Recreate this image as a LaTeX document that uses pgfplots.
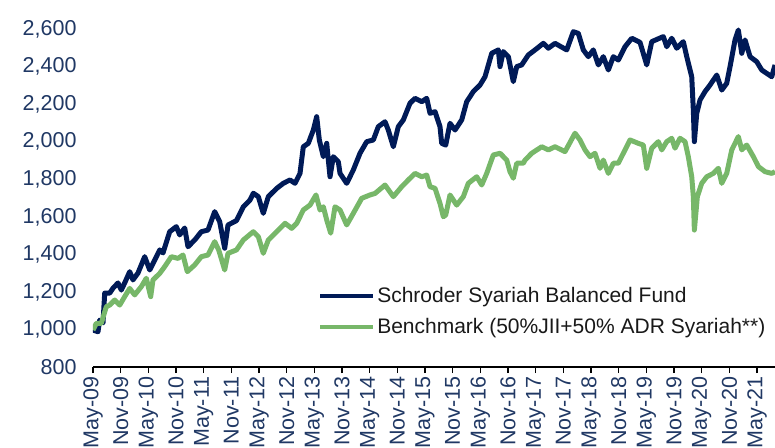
\documentclass[border=0pt]{standalone}
\usepackage{pgfplots}
\pgfplotsset{compat=1.18}
\usepackage{fontspec}
\setmainfont{Liberation Sans}
\definecolor{fundnavy}{HTML}{001A57}
\definecolor{benchgreen}{HTML}{77B769}
\definecolor{ticknavy}{HTML}{203864}
\begin{document}
\begin{tikzpicture}
\begin{axis}[
  width=682pt, height=367pt, scale only axis,
  xmin=0, xmax=147.9, ymin=800, ymax=2756,
  axis x line*=bottom, axis y line*=left,
  x axis line style={-, black, line width=1.3pt},
  y axis line style={draw=none},
  xtick={0,6,...,144},
  xticklabels={May-09,Nov-09,May-10,Nov-10,May-11,Nov-11,May-12,Nov-12,May-13,Nov-13,May-14,Nov-14,May-15,Nov-15,May-16,Nov-16,May-17,Nov-17,May-18,Nov-18,May-19,Nov-19,May-20,Nov-20,May-21},
  ytick={800,1000,...,2600},
  tick align=outside,
  major tick length=6pt,
  xtick style={black, line width=1.3pt},
  ytick style={draw=none},
  tick label style={font=\fontsize{21.5}{25}\selectfont, text=ticknavy},
  xticklabel style={rotate=90, anchor=east, xshift=0pt},
  yticklabel style={anchor=east, xshift=-7pt},
  /pgf/number format/assume math mode=true,
  /pgf/number format/1000 sep={,},
  scaled y ticks=false,
  legend style={at={(0.330,0.152)}, anchor=west, draw=none, fill=none,
    font=\fontsize{21}{25}\selectfont, text=black!90, inner sep=0pt,
    row sep=10pt, nodes={inner sep=2pt}},
  legend cell align=left,
  legend image code/.code={\draw[#1, line width=4pt] (0pt,0pt) -- (53pt,0pt);},
]
\addplot[fundnavy, line width=5pt, line join=round] coordinates {
(0.00,997)(1.08,988)(1.45,1050)(2.17,1035)(2.54,1194)(3.62,1194)(4.34,1220)(5.42,1248)(6.14,1210)(6.87,1248)(7.96,1308)(8.67,1264)(9.76,1301)(11.21,1388)(12.30,1317)(13.38,1370)(14.47,1424)(15.18,1408)(16.63,1521)(18.07,1548)(18.80,1504)(19.89,1541)(20.60,1441)(22.06,1477)(23.49,1521)(24.94,1530)(26.39,1628)(27.48,1574)(28.56,1433)(29.28,1557)(31.10,1580)(32.60,1654)(34.05,1690)(34.76,1726)(35.85,1708)(36.93,1619)(38.02,1708)(39.84,1752)(41.27,1779)(42.72,1797)(43.81,1779)(44.89,1832)(45.61,1974)(46.69,1992)(47.78,2063)(48.51,2134)(49.08,2010)(49.95,1921)(50.68,1992)(51.40,1814)(52.11,1921)(53.20,1894)(53.57,1832)(55.02,1779)(56.45,1850)(57.90,1939)(59.36,2001)(60.79,2010)(61.87,2081)(63.33,2107)(64.04,2063)(65.13,1974)(66.21,2081)(67.30,2117)(68.75,2206)(69.83,2232)(71.29,2214)(72.37,2232)(73.09,2152)(74.17,2161)(75.25,2081)(75.62,1992)(76.49,1983)(77.42,2099)(78.51,2063)(79.96,2117)(81.04,2214)(82.48,2268)(83.93,2303)(85.01,2347)(86.47,2472)(87.90,2490)(88.27,2401)(88.98,2481)(90.07,2454)(91.15,2321)(91.89,2401)(92.97,2410)(94.40,2463)(95.86,2490)(97.66,2525)(98.74,2499)(100.19,2525)(102.73,2490)(104.16,2587)(105.25,2578)(106.33,2490)(107.42,2454)(108.50,2490)(109.59,2410)(110.67,2454)(111.76,2383)(112.84,2454)(113.92,2436)(115.37,2507)(116.83,2552)(118.63,2530)(120.08,2410)(121.17,2534)(123.68,2561)(124.42,2507)(125.50,2552)(126.59,2499)(128.02,2534)(128.76,2454)(129.84,2347)(130.19,2170)(130.41,2001)(130.93,2152)(131.64,2223)(132.73,2268)(133.81,2303)(135.27,2356)(136.35,2276)(137.43,2312)(138.15,2401)(139.23,2543)(139.95,2596)(140.69,2472)(141.40,2543)(142.49,2454)(143.94,2427)(145.02,2383)(146.11,2365)(147.19,2347)(147.90,2410)
};
\addlegendentry{Schroder Syariah Balanced Fund}
\addplot[benchgreen, line width=5pt, line join=round] coordinates {
(0.00,997)(0.72,1033)(1.80,1033)(2.88,1121)(3.62,1130)(4.71,1157)(5.79,1130)(6.87,1175)(7.96,1219)(9.04,1184)(10.47,1228)(11.56,1273)(12.51,1175)(13.01,1264)(14.47,1299)(15.55,1335)(16.98,1388)(18.43,1379)(19.52,1397)(20.45,1308)(22.06,1344)(23.49,1388)(24.94,1397)(26.39,1468)(27.26,1424)(28.56,1317)(29.28,1406)(31.12,1424)(32.60,1477)(34.76,1521)(35.85,1495)(36.93,1406)(38.02,1477)(39.84,1521)(41.64,1566)(43.09,1539)(44.18,1566)(45.61,1637)(47.06,1663)(48.36,1717)(49.23,1637)(49.95,1654)(50.68,1584)(51.55,1513)(52.48,1654)(53.57,1637)(55.02,1557)(56.45,1619)(58.27,1699)(60.07,1717)(61.16,1725)(63.33,1770)(65.13,1708)(66.95,1761)(68.38,1797)(69.83,1832)(71.29,1814)(72.37,1823)(73.09,1761)(74.17,1752)(75.25,1672)(75.97,1601)(76.49,1610)(77.42,1717)(78.87,1663)(80.31,1708)(81.39,1779)(83.21,1814)(84.30,1770)(85.38,1832)(86.81,1930)(88.27,1939)(89.72,1903)(90.43,1841)(91.15,1806)(91.89,1886)(93.32,1886)(93.69,1903)(95.14,1939)(97.31,1974)(98.74,1957)(100.19,1974)(102.36,1948)(104.53,2046)(105.61,2010)(106.70,1957)(107.78,1921)(108.87,1939)(109.95,1859)(110.67,1903)(111.76,1832)(112.84,1886)(113.92,1886)(115.37,1957)(116.46,2010)(118.26,1992)(119.34,1983)(120.08,1859)(121.17,1966)(122.60,2001)(123.34,1957)(124.42,2001)(125.50,2019)(126.22,1966)(127.30,2019)(128.39,2001)(129.10,1921)(129.84,1814)(130.19,1708)(130.41,1530)(131.06,1708)(132.01,1779)(133.10,1814)(134.53,1832)(135.61,1859)(136.35,1779)(137.43,1832)(138.52,1957)(139.95,2028)(140.69,1957)(141.77,1983)(143.21,1921)(144.30,1868)(145.74,1841)(147.19,1832)(147.90,1841)
};
\addlegendentry{Benchmark (50\%JII+50\% ADR Syariah**)}
\end{axis}
\pgfresetboundingbox
\useasboundingbox (-93pt,-80pt) rectangle (682pt,367pt);
\end{tikzpicture}
\end{document}
